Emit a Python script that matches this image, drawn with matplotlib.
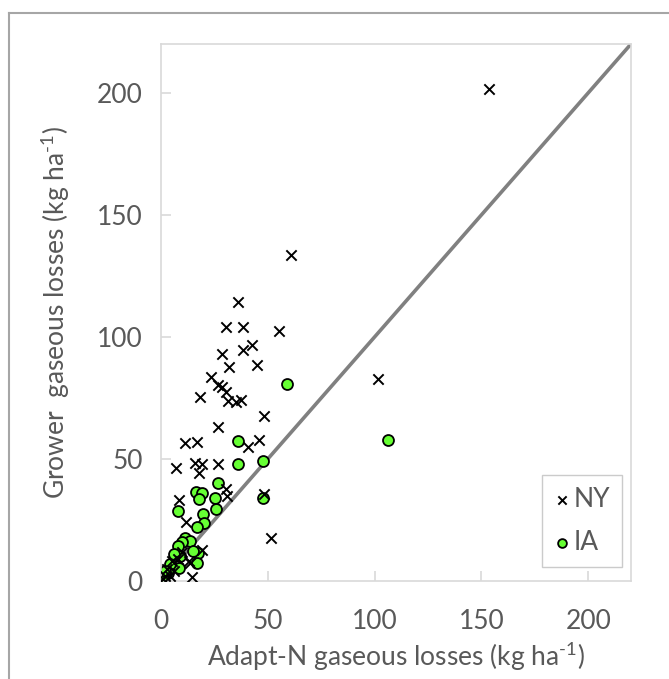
import matplotlib
matplotlib.use("Agg")
import matplotlib.pyplot as plt
from matplotlib.lines import Line2D

# ---- data (kg ha-1) ----
ny_adapt = [153.4, 60.7, 36.2, 30.4, 38.5, 55.2, 42.8, 38.5, 28.4, 32.0, 44.8, 23.3, 26.8, 28.4,
            18.3, 30.4, 31.5, 35.1, 37.3, 48.2, 26.8, 46.0, 11.2, 16.7, 40.6, 7.0, 15.9, 19.1,
            17.9, 26.8, 30.4, 31.0, 8.6, 11.7, 19.1, 14.4, 51.5, 48.4, 101.4,
            3.0, 5.0, 2.0, 6.0, 8.0, 13.0, 1.0, 4.0, 10.0, 13.6]
ny_grower = [201.6, 133.6, 114.5, 104.0, 104.0, 102.6, 96.7, 94.7, 93.0, 87.6, 88.3, 83.5, 80.3, 79.6,
             75.5, 77.6, 73.9, 73.2, 74.2, 67.7, 63.0, 57.8, 56.4, 57.1, 55.0, 46.4, 48.5, 47.8,
             44.1, 47.8, 37.6, 34.8, 33.2, 24.3, 12.7, 1.5, 17.5, 35.7, 82.7,
             5.0, 8.0, 2.0, 4.0, 9.0, 8.0, 1.0, 2.0, 12.0, 7.3]

ia_adapt = [58.8, 35.9, 35.9, 47.9, 26.8, 16.2, 19.1, 17.9, 25.3, 47.9, 7.8, 19.5, 25.6, 20.1,
            16.7, 11.2, 13.6, 9.7, 8.1, 17.2, 8.9, 14.8, 16.7, 8.6, 4.2, 3.4, 1.1, 106.4, 6.0, 2.0]
ia_grower = [80.6, 57.5, 48.0, 49.3, 40.3, 36.4, 36.2, 33.6, 33.9, 33.9, 28.8, 27.5, 29.5, 23.6,
             22.3, 17.5, 16.5, 16.1, 14.3, 11.6, 10.2, 12.4, 7.5, 5.2, 7.0, 3.4, 1.8, 57.8, 11.0, 4.0]

ticks = [0, 50, 100, 150, 200]
axis_max = 220

plt.rcParams['font.family'] = ['Lato', 'DejaVu Sans']
plt.rcParams['mathtext.fontset'] = 'custom'
plt.rcParams['mathtext.rm'] = 'Lato'
text_color = '#595959'
fs = 19

W, H = 669, 679
fig = plt.figure(figsize=(W / 100, H / 100), dpi=100)
ax = fig.add_axes([161 / W, 1 - 581 / H, 470 / W, 537 / H])

ax.plot([0, axis_max], [0, axis_max], color='#808080', lw=2.6, zorder=1, solid_capstyle='butt')
ax.scatter(ny_adapt, ny_grower, marker='x', s=55, color='black', linewidths=1.4, zorder=3, label='NY')
ax.scatter(ia_adapt, ia_grower, marker='o', s=62, facecolor='#66ff33', edgecolor='black',
           linewidths=1.3, zorder=2, label='IA')

ax.set_xlim(0, axis_max)
ax.set_ylim(0, axis_max)
ax.set_xticks(ticks)
ax.set_yticks(ticks)
for s in ax.spines.values():
    s.set_color('#d9d9d9')
    s.set_linewidth(1.2)
ax.tick_params(direction='in', length=7, width=1.2, color='#d9d9d9', labelsize=fs,
               labelcolor=text_color)
ax.tick_params(axis='x', pad=20)
ax.tick_params(axis='y', pad=13)

ax.set_xlabel('Adapt-N gaseous losses (kg ha$^{\\text{-1}}$)', fontsize=fs,
              color=text_color, labelpad=4)
ax.set_ylabel('Grower  gaseous losses (kg ha$^{\\text{-1}}$)', fontsize=fs,
              color=text_color, labelpad=18)

leg = ax.legend(loc='lower right', bbox_to_anchor=(0.981, 0.026), borderaxespad=0,
                frameon=True, fancybox=False, edgecolor='#bfbfbf', fontsize=fs,
                markerscale=0.8, handlelength=0.65, handletextpad=0.1, labelspacing=0.7,
                borderpad=0.45, labelcolor=text_color)
leg.get_frame().set_linewidth(1.0)

# outer frame (top and left edges visible)
fig.add_artist(Line2D([9 / W, 1], [1 - 13 / H, 1 - 13 / H], transform=fig.transFigure,
                      color='#a6a6a6', lw=1.5))
fig.add_artist(Line2D([9 / W, 9 / W], [0, 1 - 13 / H], transform=fig.transFigure,
                      color='#a6a6a6', lw=1.5))

fig.savefig('out.png', dpi=100)
